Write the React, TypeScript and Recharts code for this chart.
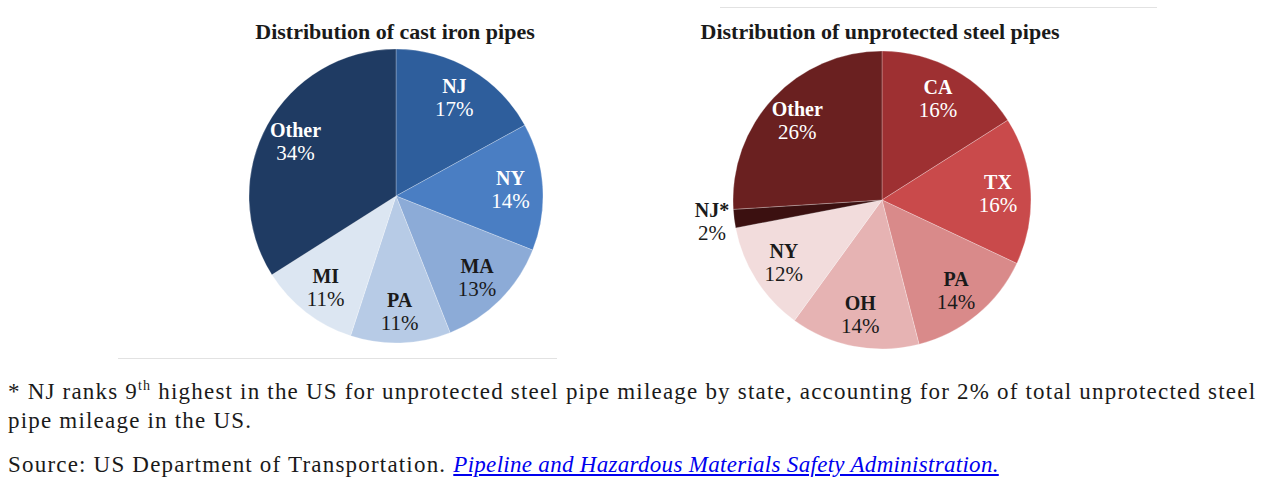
import React from 'react';
import { PieChart, Pie, Cell } from 'recharts';

// Cast iron pipe mileage share by state (clockwise from 12 o'clock)
const ironStates = ['NJ', 'NY', 'MA', 'PA', 'MI', 'Other'];
const ironShares = [17, 14, 13, 11, 11, 34];
const ironColors = ['#2e5e9c', '#4a7ec3', '#8cabd7', '#b7cbe6', '#dce6f2', '#1f3b63'];
const ironLightText = [true, true, false, false, false, true];

// Unprotected steel pipe mileage share by state
const steelStates = ['CA', 'TX', 'PA', 'OH', 'NY', 'NJ*', 'Other'];
const steelShares = [16, 16, 14, 14, 12, 2, 26];
const steelColors = ['#9e3032', '#c94a4b', '#d98a8a', '#e6b3b3', '#f2dcdc', '#3b1010', '#6a2020'];
const steelLightText = [true, true, false, false, false, false, true];

const FONT = '"Liberation Serif", "Times New Roman", serif';
const RAD = Math.PI / 180;

const ironData = ironStates.map((name, i) => ({ name, value: ironShares[i] }));
const steelData = steelStates.map((name, i) => ({ name, value: steelShares[i] }));

function makeLabel(lightText: boolean[]) {
  return (props: any) => {
    const { cx, cy, midAngle, outerRadius, index, name, value } = props;
    // small slices get their label outside the pie
    const r = value < 5 ? outerRadius * 1.15 : outerRadius * 0.78;
    const x = cx + r * Math.cos(-midAngle * RAD);
    const y = cy + r * Math.sin(-midAngle * RAD);
    const fill = value < 5 ? '#1a1a1a' : lightText[index] ? '#ffffff' : '#1a1a1a';
    return (
      <text
        key={`lbl-${index}`}
        x={x}
        y={y}
        textAnchor="middle"
        fill={fill}
        fontFamily={FONT}
      >
        <tspan x={x} dy={-4} fontWeight="bold" fontSize={20}>{name}</tspan>
        <tspan x={x} dy={23} fontSize={21}>{value}%</tspan>
      </text>
    );
  };
}

const titleStyle: React.CSSProperties = {
  position: 'absolute',
  fontFamily: FONT,
  fontWeight: 'bold',
  fontSize: 22,
  color: '#1a1a1a',
  whiteSpace: 'nowrap',
  transform: 'translateX(-50%)',
};

const noteStyle: React.CSSProperties = {
  position: 'absolute',
  left: 8,
  fontFamily: FONT,
  fontSize: 23,
  letterSpacing: 1.2,
  color: '#1a1a1a',
  whiteSpace: 'nowrap',
  lineHeight: '29px',
};

export default function App() {
  return (
    <div
      style={{
        position: 'absolute',
        left: 0,
        top: 0,
        width: 1271,
        height: 481,
        background: '#ffffff',
        overflow: 'hidden',
      }}
    >
      <div style={{ ...titleStyle, left: 395, top: 19 }}>Distribution of cast iron pipes</div>
      <div style={{ ...titleStyle, left: 880, top: 19 }}>Distribution of unprotected steel pipes</div>

      <div style={{ position: 'absolute', left: 118, top: 358, width: 439, height: 1, background: '#e2e2e2' }} />
      <div style={{ position: 'absolute', left: 720, top: 7, width: 437, height: 1, background: '#e2e2e2' }} />

      <div style={{ position: 'absolute', left: 200, top: 40 }}>
        <PieChart width={400} height={320}>
          <Pie
            data={ironData}
            dataKey="value"
            nameKey="name"
            cx={191}
            cy={151}
            outerRadius={147}
            startAngle={90}
            endAngle={-270}
            stroke="#ffffff"
            strokeWidth={0.5}
            strokeOpacity={0.5}
            label={makeLabel(ironLightText)}
            labelLine={false}
            isAnimationActive={false}
          >
            {ironData.map((d, i) => (
              <Cell key={d.name} fill={ironColors[i]} />
            ))}
          </Pie>
        </PieChart>
      </div>

      <div style={{ position: 'absolute', left: 680, top: 40 }}>
        <PieChart width={420} height={320}>
          <Pie
            data={steelData}
            dataKey="value"
            nameKey="name"
            cx={197}
            cy={155}
            outerRadius={149}
            startAngle={90}
            endAngle={-270}
            stroke="#ffffff"
            strokeWidth={0.5}
            strokeOpacity={0.5}
            label={makeLabel(steelLightText)}
            labelLine={false}
            isAnimationActive={false}
          >
            {steelData.map((d, i) => (
              <Cell key={d.name} fill={steelColors[i]} />
            ))}
          </Pie>
        </PieChart>
      </div>

      <div style={{ ...noteStyle, top: 377 }}>
        * NJ ranks 9<sup style={{ fontSize: 14, lineHeight: 0 }}>th</sup> highest in the US for unprotected steel pipe
        mileage by state, accounting for 2% of total unprotected steel
        <br />
        pipe mileage in the US.
      </div>
      <div style={{ ...noteStyle, top: 450 }}>
        Source: US Department of Transportation.{' '}
        <span
          style={{
            color: '#0000ee',
            fontStyle: 'italic',
            textDecoration: 'underline',
            letterSpacing: 0.3,
          }}
        >
          Pipeline and Hazardous Materials Safety Administration.
        </span>
      </div>
    </div>
  );
}
